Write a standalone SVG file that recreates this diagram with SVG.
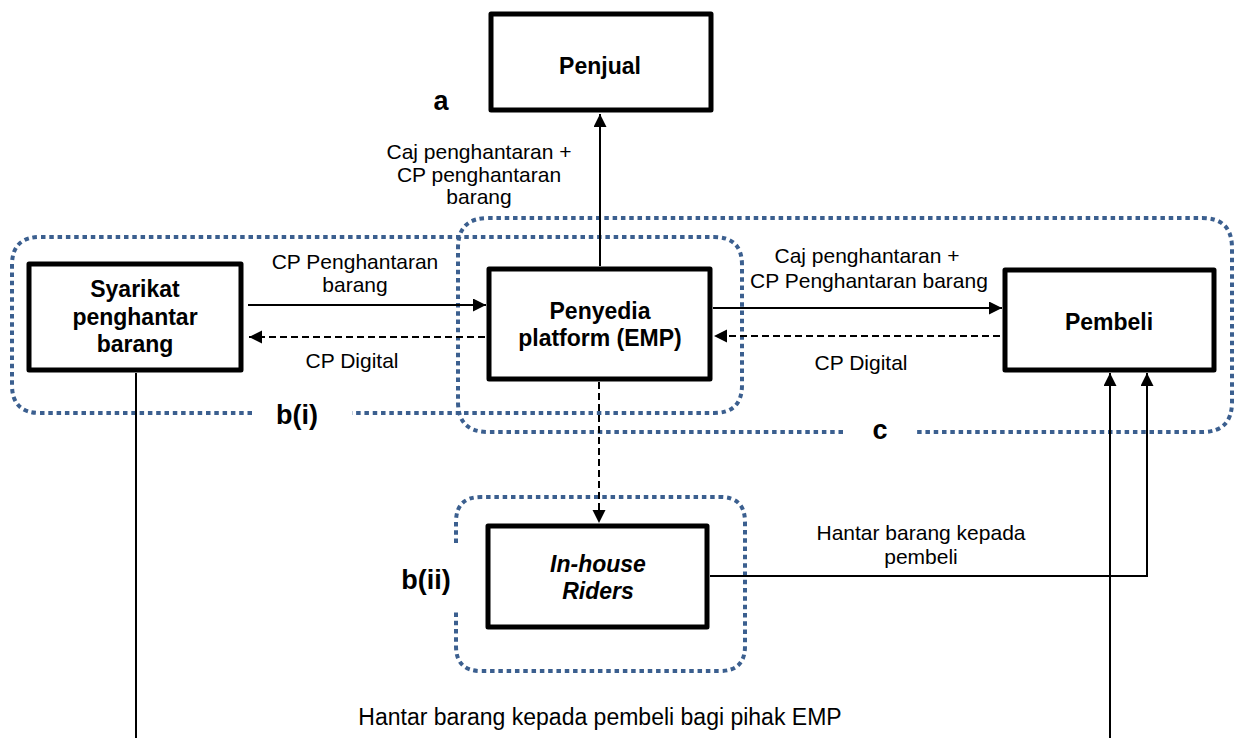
<svg xmlns="http://www.w3.org/2000/svg" width="1234" height="738" viewBox="0 0 1234 738">
<style>
.box{fill:#fff;stroke:#000;stroke-width:5;stroke-linejoin:round}
.grp{fill:none;stroke:#3B5F8F;stroke-width:4;stroke-dasharray:4.5 3.8}
.ln{fill:none;stroke:#000;stroke-width:2}
.dash{stroke-dasharray:7 4}
.t{font-family:"Liberation Sans",Arial,sans-serif;font-size:21px;fill:#000;text-anchor:middle}
.b{font-family:"Liberation Sans",Arial,sans-serif;font-size:23px;font-weight:bold;fill:#000;text-anchor:middle}
.lbl{font-family:"Liberation Sans",Arial,sans-serif;font-size:27px;font-weight:bold;fill:#000;text-anchor:middle}
</style>
<defs>
<marker id="ah" markerUnits="userSpaceOnUse" markerWidth="14" markerHeight="14" refX="13" refY="6.5" orient="auto">
<path d="M0,0 L13,6.5 L0,13 z" fill="#000"/>
</marker>
</defs>
<rect width="1234" height="738" fill="#fff"/>
<g id="groups">
<path class="grp" d="M252,413 H40 Q12,413 12,385 V265 Q12,237 40,237 H714 Q742,237 742,265 V385 Q742,413 714,413 H352"/>
<path class="grp" d="M843,432 H488 Q458,432 458,402 V248 Q458,218 488,218 H1202 Q1232,218 1232,248 V402 Q1232,432 1202,432 H915"/>
<path class="grp" d="M456,543 V522 Q456,497 481,497 H720 Q745,497 745,522 V646 Q745,671 720,671 H481 Q456,671 456,646 V612"/>
</g>
<g id="connectors">
<path class="ln" d="M248,305 H486" marker-end="url(#ah)"/>
<path class="ln dash" d="M485,337 H249" marker-end="url(#ah)"/>
<path class="ln" d="M713,308 H1002" marker-end="url(#ah)"/>
<path class="ln dash" d="M1000,336 H714" marker-end="url(#ah)"/>
<path class="ln" d="M600,266 V114" marker-end="url(#ah)"/>
<path class="ln dash" d="M599,382 V523" marker-end="url(#ah)"/>
<path class="ln" d="M136,373 V738"/>
<path class="ln" d="M1110,738 V373" marker-end="url(#ah)"/>
<path class="ln" d="M710,576 H1147 V373" marker-end="url(#ah)"/>
</g>
<g id="penjual">
<rect class="box" x="491" y="14" width="220" height="96"/>
<text class="b" x="600" y="74">Penjual</text>
</g>
<g id="syarikat">
<rect class="box" x="29" y="264" width="212" height="106"/>
<text class="b" x="135" y="297">Syarikat</text>
<text class="b" x="135" y="325">penghantar</text>
<text class="b" x="135" y="352">barang</text>
</g>
<g id="penyedia">
<rect class="box" x="489" y="269" width="221" height="110"/>
<text class="b" x="600" y="319">Penyedia</text>
<text class="b" x="600" y="346">platform (EMP)</text>
</g>
<g id="pembeli">
<rect class="box" x="1005" y="270" width="209" height="100"/>
<text class="b" x="1109" y="330">Pembeli</text>
</g>
<g id="inhouse">
<rect class="box" x="488" y="526" width="219" height="101"/>
<text class="b" x="598" y="572" font-style="italic">In-house</text>
<text class="b" x="598" y="599" font-style="italic">Riders</text>
</g>
<g id="labels">
<text class="lbl" x="441" y="110">a</text>
<text class="lbl" x="297" y="424">b(i)</text>
<text class="lbl" x="880" y="439">c</text>
<text class="lbl" x="426" y="589">b(ii)</text>
<text class="t" x="479" y="159">Caj penghantaran +</text>
<text class="t" x="479" y="182">CP penghantaran</text>
<text class="t" x="479" y="204">barang</text>
<text class="t" x="355" y="269">CP Penghantaran</text>
<text class="t" x="355" y="292">barang</text>
<text class="t" x="352" y="368">CP Digital</text>
<text class="t" x="867" y="263">Caj penghantaran +</text>
<text class="t" x="869" y="288">CP Penghantaran barang</text>
<text class="t" x="861" y="370">CP Digital</text>
<text class="t" x="921" y="540">Hantar barang kepada</text>
<text class="t" x="921" y="564">pembeli</text>
<text class="t" x="600" y="725" style="font-size:23px">Hantar barang kepada pembeli bagi pihak EMP</text>
</g>
</svg>
